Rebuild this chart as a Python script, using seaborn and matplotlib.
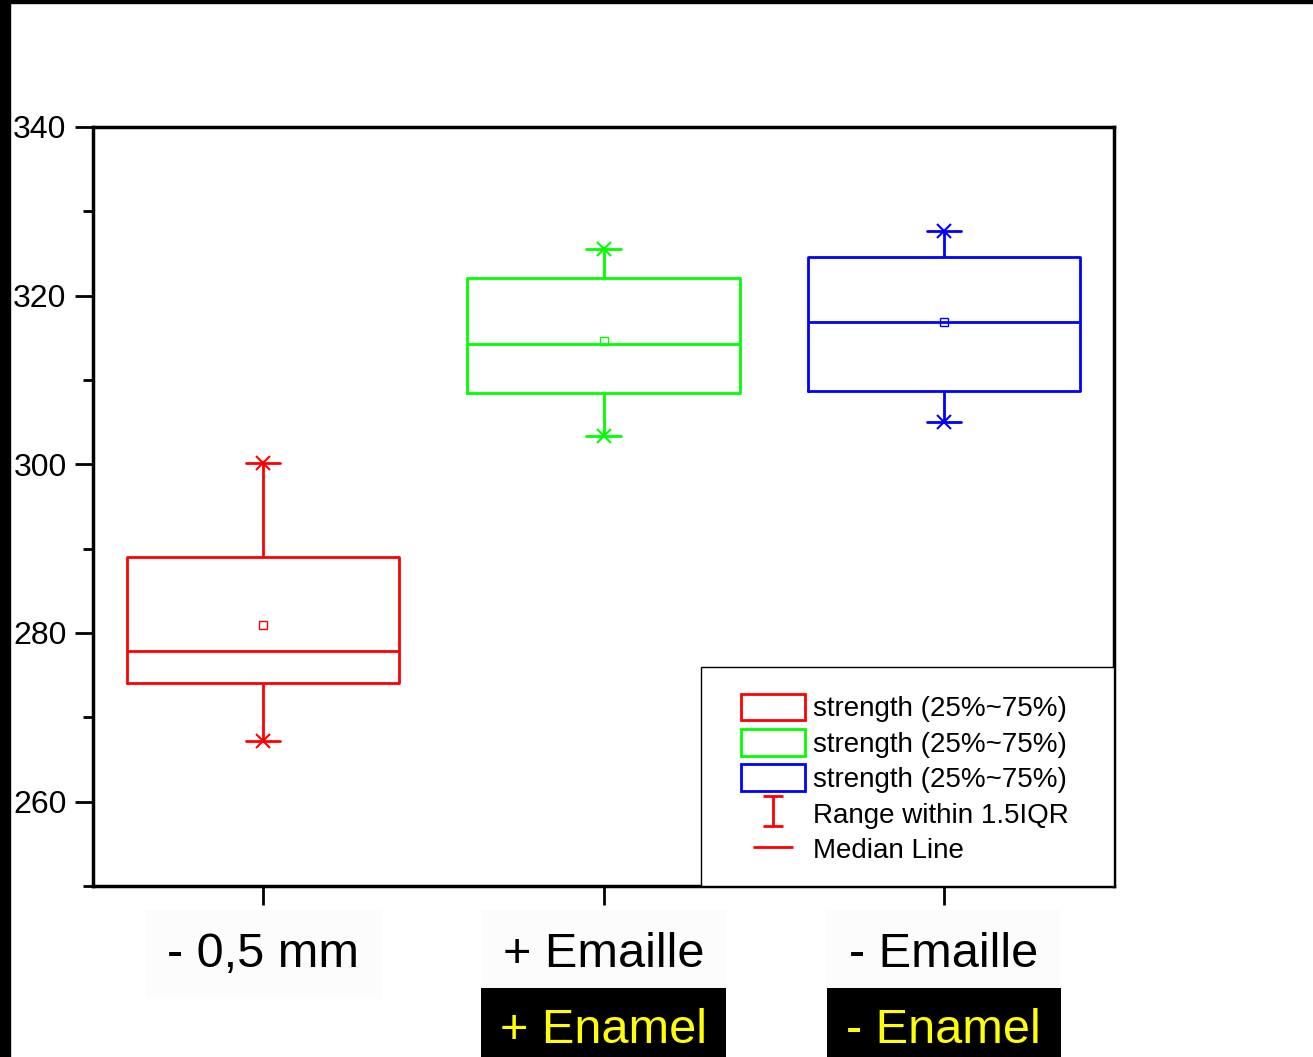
import numpy as np
import pandas as pd
import matplotlib.pyplot as plt
import seaborn as sns
from matplotlib.patches import Patch, Rectangle
from matplotlib.lines import Line2D
from matplotlib.path import Path
from matplotlib.ticker import MultipleLocator

# five-number summaries
groups = ['- 0,5 mm', '+ Emaille', '- Emaille']
sub_labels = ['', '+ Enamel', '- Enamel']
whisker_low = [267.2, 303.4, 305.0]
q1 = [274.1, 308.5, 308.7]
median = [277.9, 314.3, 316.9]
q3 = [289.0, 322.1, 324.6]
whisker_high = [300.2, 325.5, 327.7]
means = [280.9, 314.6, 316.9]
colors = ['#ff0000', '#00ff00', '#0000ff']

# long table: one row per summary value so the box stats come out the same
rows = []
for g, lo, a, m, b, hi in zip(groups, whisker_low, q1, median, q3, whisker_high):
    for v in (lo, a, m, b, hi):
        rows.append((g, v))
df = pd.DataFrame(rows, columns=['group', 'strength'])

sns.set_style('ticks')
plt.rcParams['font.family'] = ['Liberation Sans', 'DejaVu Sans']
plt.rcParams['text.color'] = 'black'
plt.rcParams['xtick.color'] = 'black'
plt.rcParams['ytick.color'] = 'black'
plt.rcParams['axes.labelcolor'] = 'black'

fig = plt.figure(figsize=(13.13, 10.57), dpi=100)
ax = fig.add_axes([93 / 1313, 1 - 886 / 1057, (1114 - 93) / 1313, (886 - 127) / 1057])

sns.boxplot(data=df, x='group', y='strength', hue='group', palette=colors,
            fill=False, width=0.8, whis=1.5, linewidth=2, showfliers=False,
            capwidths=0.1, legend=False, ax=ax)

# whisker end markers and mean markers
for vals in (whisker_low, whisker_high):
    sns.pointplot(x=groups, y=vals, hue=groups, palette=colors, markers='x',
                  linestyles='none', errorbar=None, markersize=10,
                  markeredgewidth=1.5, legend=False, ax=ax)
sns.pointplot(x=groups, y=means, hue=groups, palette=colors, markers='s',
              linestyles='none', errorbar=None, markersize=6,
              markeredgewidth=1, markerfacecolor='none', legend=False, ax=ax)

ax.set_xlim(-0.5, 2.5)
ax.set_ylim(250, 340)
ax.set_yticks([260, 280, 300, 320, 340])
ax.yaxis.set_minor_locator(MultipleLocator(10))
ax.set_xlabel('')
ax.set_ylabel('')
for s in ax.spines.values():
    s.set_visible(True)
    s.set_linewidth(2.5)
    s.set_color('black')
ax.tick_params(axis='y', which='major', length=13, width=2, labelsize=23, pad=6,
               direction='out', colors='black')
ax.tick_params(axis='y', which='minor', length=7, width=2, direction='out', colors='black')
ax.tick_params(axis='x', which='major', length=14, width=2, labelsize=35, pad=19,
               direction='out', colors='black')
ax.set_xticks(range(len(groups)))
ax.set_xticklabels(groups)
for t in ax.get_xticklabels():
    t.set_bbox(dict(facecolor='#fcfcfc', edgecolor='none', boxstyle='square,pad=0.45'))

for i, lab in enumerate(sub_labels):
    if lab:
        ax.text(i, -0.19, lab, transform=ax.get_xaxis_transform(), ha='center', va='center',
                fontsize=35, color='#ffff00',
                bbox=dict(facecolor='black', edgecolor='none', boxstyle='square,pad=0.4'))

# legend: frame drawn as its own box in the lower right corner
ax.add_patch(Rectangle((0.5955, 0), 0.4045, 0.2885, transform=ax.transAxes,
                       facecolor='white', edgecolor='black', linewidth=1, zorder=4))
ibeam = Path([(-0.7, 1), (0.7, 1), (0, 1), (0, -1), (-0.7, -1), (0.7, -1)],
             [Path.MOVETO, Path.LINETO, Path.MOVETO, Path.LINETO, Path.MOVETO, Path.LINETO])
dash = Path([(-1, 0), (1, 0)], [Path.MOVETO, Path.LINETO])
handles = [Patch(facecolor='none', edgecolor=c, linewidth=2) for c in colors]
handles += [Line2D([], [], color='red', marker=ibeam, markersize=21, linestyle='none', markeredgewidth=2),
            Line2D([], [], color='red', marker=dash, markersize=29, linestyle='none', markeredgewidth=2)]
labels = ['strength (25%~75%)'] * 3 + ['Range within 1.5IQR', 'Median Line']
leg = ax.legend(handles, labels, loc='upper left', bbox_to_anchor=(0.6347, 0.2535),
                borderaxespad=0, fontsize=20, frameon=False,
                handlelength=2.3, handleheight=1.1, handletextpad=0.3, labelspacing=0.24,
                borderpad=0)
leg.set_zorder(5)
for t in leg.get_texts():
    t.set_color('black')

# black border strips at left and top of the original image
fig.add_artist(Rectangle((0, 0), 10 / 1313, 1, transform=fig.transFigure, color='black'))
fig.add_artist(Rectangle((0, 1 - 3 / 1057), 1, 3 / 1057, transform=fig.transFigure, color='black'))

fig.savefig('out.png', dpi=100)
